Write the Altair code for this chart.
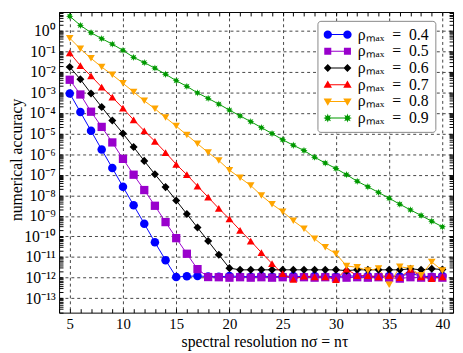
import math
import altair as alt
import pandas as pd

# ---------------- data ----------------
n_values = list(range(5, 41))
rho_max = ["0.4", "0.5", "0.6", "0.7", "0.8", "0.9"]
colors = ["#0000ff", "#9900cc", "#000000", "#ff0000", "#ffa500", "#009900"]

acc_04 = [8.9e-4, 1.1e-4, 1.35e-5, 1.66e-6, 2.1e-7, 2.6e-8, 3.3e-9, 4.2e-10, 5.2e-11, 7.1e-12,
          1.07e-12, 1.17e-12, 1.2e-12, 1.15e-12, 1.1e-12, 1.2e-12, 1.15e-12, 1.1e-12, 1.2e-12,
          1.1e-12, 1.15e-12, 1.2e-12, 1.1e-12, 1.2e-12, 1.15e-12, 1.1e-12, 1.25e-12, 1.15e-12,
          1.2e-12, 1.1e-12, 1.2e-12, 1.15e-12, 1.6e-12, 1.2e-12, 1.1e-12, 1.2e-12]
acc_05 = [4.1e-3, 7.9e-4, 1.15e-4, 2.1e-5, 3.7e-6, 5.9e-7, 1.0e-7, 1.8e-8, 3.1e-9, 5.0e-10,
          8.3e-11, 1.45e-11, 2.6e-12, 1.07e-12, 1.05e-12, 1.0e-12, 1.05e-12, 1.0e-12, 1.05e-12,
          1.0e-12, 1.05e-12, 1.0e-12, 1.05e-12, 1.0e-12, 1.05e-12, 1.0e-12, 1.0e-12, 1.05e-12,
          1.0e-12, 1.05e-12, 1.0e-12, 0.9e-12, 1.05e-12, 1.0e-12, 1.05e-12, 1.0e-12]
acc_06 = [1.7e-2, 4.3e-3, 8.9e-4, 1.95e-4, 4.3e-5, 1.0e-5, 2.2e-6, 4.7e-7, 1.05e-7, 2.5e-8,
          5.6e-9, 1.23e-9, 2.7e-10, 6.0e-11, 1.3e-11, 2.9e-12, 2.4e-12, 2.4e-12, 2.4e-12, 2.4e-12,
          2.4e-12, 2.4e-12, 2.4e-12, 2.4e-12, 2.4e-12, 2.4e-12, 2.2e-12, 2.4e-12, 2.4e-12,
          2.4e-12, 2.4e-12, 2.4e-12, 2.7e-12, 2.4e-12, 2.7e-12, 2.5e-12]
acc_07 = [8.3e-2, 2.0e-2, 6.3e-3, 1.8e-3, 5.8e-4, 1.7e-4, 4.6e-5, 1.35e-5, 4.2e-6, 1.2e-6,
          3.2e-7, 1.0e-7, 2.8e-8, 8.1e-9, 2.3e-9, 7.1e-10, 2.0e-10, 6.0e-11, 1.66e-11, 4.8e-12,
          1.55e-12, 8.3e-13, 1.2e-12, 1.1e-12, 1.1e-12, 8.1e-13, 2.6e-12, 1.25e-12, 1.25e-12,
          1.1e-12, 1.25e-12, 1.0e-12, 2.5e-12, 1.1e-12, 8.9e-13, 1.1e-12]
acc_08 = [0.43, 0.13, 4.5e-2, 1.7e-2, 7.1e-3, 2.75e-3, 1.05e-3, 3.9e-4, 1.6e-4, 6.0e-5,
          2.3e-5, 8.5e-6, 3.2e-6, 1.2e-6, 4.9e-7, 1.66e-7, 7.1e-8, 3.0e-8, 9.8e-9, 3.7e-9,
          1.6e-9, 5.8e-10, 2.4e-10, 7.8e-11, 3.0e-11, 1.45e-11, 3.7e-12, 3.2e-12, 2.2e-12,
          2.8e-12, 4.5e-13, 3.4e-12, 2.8e-12, 1.3e-12, 5.8e-12, 2.2e-12]
acc_09 = [5.0, 1.8, 0.79, 0.41, 0.22, 0.11, 5.0e-2, 2.8e-2, 1.5e-2, 7.6e-3,
          3.7e-3, 1.95e-3, 9.5e-4, 5.1e-4, 2.7e-4, 1.38e-4, 7.2e-5, 3.8e-5, 1.95e-5, 1.0e-5,
          5.0e-6, 2.7e-6, 1.5e-6, 7.1e-7, 3.7e-7, 2.0e-7, 1.0e-7, 4.8e-8, 2.6e-8, 1.38e-8,
          7.2e-9, 3.7e-9, 1.95e-9, 1.05e-9, 5.5e-10, 2.95e-10]
series = [acc_04, acc_05, acc_06, acc_07, acc_08, acc_09]

x_ticks = [5, 10, 15, 20, 25, 30, 35, 40]
x_minor = list(range(4, 42))
y_ticks = [1e0, 1e-1, 1e-2, 1e-3, 1e-4, 1e-5, 1e-6, 1e-7, 1e-8, 1e-9, 1e-10, 1e-11, 1e-12, 1e-13]
y_tick_labels = ["10⁰", "10⁻¹", "10⁻²", "10⁻³", "10⁻⁴", "10⁻⁵", "10⁻⁶", "10⁻⁷",
                 "10⁻⁸", "10⁻⁹", "10⁻¹⁰", "10⁻¹¹", "10⁻¹²", "10⁻¹³"]
y_minor = [m * 10.0 ** e for e in range(-14, 1) for m in range(1, 10)
           if 2e-14 <= m * 10.0 ** e <= 8]

rows = []
for rho, vals in zip(rho_max, series):
    for n, v in zip(n_values, vals):
        rows.append({"n": n, "acc": v, "rho": rho})
df = pd.DataFrame(rows)

# ---------------- marker shapes ----------------
def star(cx, r):
    pts = []
    for i in range(16):
        a = math.pi * i / 8 - math.pi / 2
        rr = r if i % 2 == 0 else r * 0.5
        pts.append(f"{cx + rr * math.cos(a):.3f},{rr * math.sin(a):.3f}")
    return "M" + "L".join(pts) + "Z"

def circle(cx, r):
    return f"M{cx - r:.3f},0A{r},{r} 0 1,1 {cx + r:.3f},0A{r},{r} 0 1,1 {cx - r:.3f},0Z"

def square(cx, h):
    return f"M{cx - h:.3f},{-h}H{cx + h:.3f}V{h}H{cx - h:.3f}Z"

def diamond(cx, d):
    return f"M{cx:.3f},{-d}L{cx + d:.3f},0L{cx:.3f},{d}L{cx - d:.3f},0Z"

def tri_up(cx, w):
    return f"M{cx:.3f},{-w}L{cx + w:.3f},{w * 0.7:.3f}L{cx - w:.3f},{w * 0.7:.3f}Z"

def tri_down(cx, w):
    return f"M{cx:.3f},{w}L{cx - w:.3f},{-w * 0.7:.3f}L{cx + w:.3f},{-w * 0.7:.3f}Z"

point_shapes = ["circle", "square", "diamond", "triangle-up", "triangle-down", star(0, 1)]
point_sizes = [75, 55, 70, 85, 85, 85]

c = 0.70
line_seg = f"M{-c:.2f},-0.035H{c:.2f}V0.035H{-c:.2f}Z"
legend_shapes = [
    line_seg + circle(-c, 0.3) + circle(c, 0.3),
    line_seg + square(-c, 0.25) + square(c, 0.25),
    line_seg + diamond(-c, 0.28) + diamond(c, 0.28),
    line_seg + tri_up(-c, 0.3) + tri_up(c, 0.3),
    line_seg + tri_down(-c, 0.3) + tri_down(c, 0.3),
    line_seg + star(-c, 0.32) + star(c, 0.32),
]

# ---------------- chart ----------------
FONT = "Liberation Serif"
xs = alt.Scale(domain=[4, 41], nice=False, zero=False)
ys = alt.Scale(type="log", domain=[2e-14, 8], nice=False)
cs = alt.Scale(domain=rho_max, range=colors)

labels_js = "[" + ",".join(f"'{s}'" for s in y_tick_labels) + "]"
y_label_expr = f"{labels_js}[round(-log(datum.value)/LN10)]"

tick_axis = dict(ticks=True, tickSize=4, tickColor="black", tickWidth=1, offset=-4,
                 labels=False, grid=False, domain=False, title=None)

lines = alt.Chart(df).mark_line(strokeWidth=1).encode(
    x=alt.X("n:Q", scale=xs, axis=alt.Axis(
        orient="bottom", values=x_ticks, grid=True, ticks=False, domain=False,
        labelFontSize=15, labelPadding=4, labelFont=FONT, labelColor="black",
        title="spectral resolution nσ = nτ", titleFont=FONT, titleFontSize=16,
        titleFontWeight="normal", titleColor="black", titleX=209, titleY=34,
        titleAlign="center", titleBaseline="alphabetic")),
    y=alt.Y("acc:Q", scale=ys, axis=alt.Axis(
        orient="left", values=y_ticks, labelExpr=y_label_expr, grid=True, ticks=False,
        domain=False, labelFontSize=16, labelPadding=4, labelFont=FONT, labelColor="black",
        title="numerical accuracy", titleFont=FONT, titleFontSize=16, titleFontWeight="normal",
        titleColor="black", titleX=-38, titleY=150, titleAngle=270, titleAlign="center",
        titleBaseline="alphabetic")),
    color=alt.Color("rho:N", scale=cs, legend=None),
)

points = alt.Chart(df).mark_point(filled=True, opacity=1).encode(
    x=alt.X("n:Q", scale=xs, axis=alt.Axis(orient="bottom", values=x_minor, **tick_axis)),
    y=alt.Y("acc:Q", scale=ys, axis=alt.Axis(orient="left", values=y_minor, **tick_axis)),
    color=alt.Color("rho:N", scale=cs, legend=None),
    shape=alt.Shape("rho:N", scale=alt.Scale(domain=rho_max, range=point_shapes), legend=None),
    size=alt.Size("rho:O", scale=alt.Scale(domain=rho_max, range=point_sizes), legend=None),
)

legend_props = dict(
    orient="none", legendX=263, legendY=9, title=None,
    labelExpr="'ρₘₐₓ\u2002=\u2002' + datum.label", labelFont=FONT, labelFontSize=16,
    labelColor="black", symbolSize=818, symbolStrokeWidth=0, symbolOpacity=1,
    labelOffset=6, padding=6, rowPadding=1, clipHeight=16, strokeColor="#888888",
    fillColor="white", cornerRadius=3,
)

legend_layer = alt.Chart(df).transform_filter("false").mark_point(filled=True, opacity=1).encode(
    x=alt.X("n:Q", scale=xs, axis=alt.Axis(orient="top", values=x_minor, **tick_axis)),
    y=alt.Y("acc:Q", scale=ys, axis=alt.Axis(orient="right", values=y_minor, **tick_axis)),
    color=alt.Color("rho:N", scale=cs, legend=alt.Legend(**legend_props)),
    shape=alt.Shape("rho:N", scale=alt.Scale(domain=rho_max, range=legend_shapes),
                    legend=alt.Legend(**legend_props)),
)

chart = alt.layer(lines, points, legend_layer).resolve_scale(
    color="independent", shape="independent"
).resolve_axis(
    x="independent", y="independent"
).properties(
    width=401, height=306,
    padding={"left": 52, "top": 1, "right": 2, "bottom": 38},
    autosize=alt.AutoSizeParams(type="none"),
).configure_view(
    stroke="black", strokeWidth=1
).configure_axis(
    gridColor="#444444", gridDash=[3, 3], gridOpacity=1, gridWidth=1,
    labelFont=FONT, titleFont=FONT
).configure_legend(
    labelFont=FONT
)

chart.save("out.html", embed_options={"renderer": "svg", "actions": False})
